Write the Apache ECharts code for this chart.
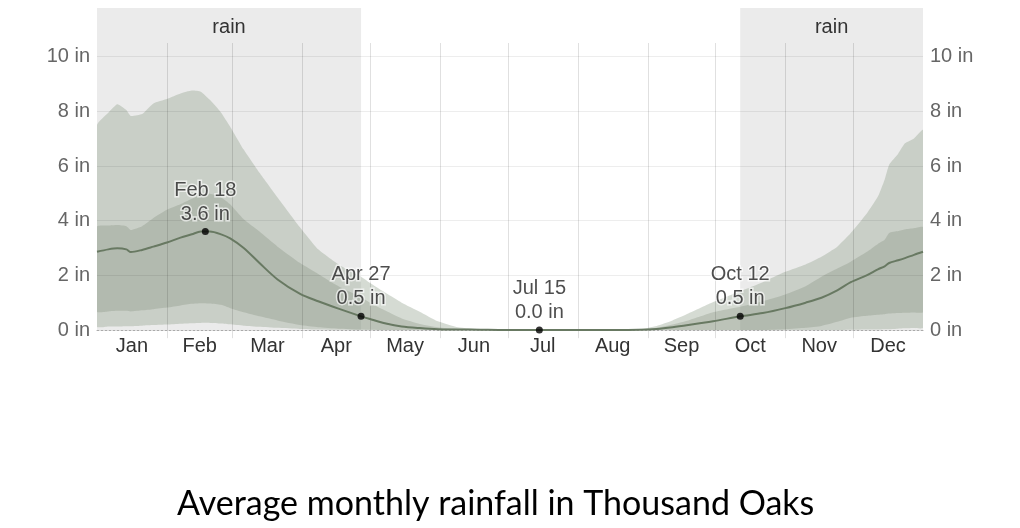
<!DOCTYPE html>
<html>
<head>
<meta charset="utf-8">
<title>Average monthly rainfall in Thousand Oaks</title>
<script src="https://cdn.jsdelivr.net/npm/echarts@6/dist/echarts.min.js"></script>
<style>
  html, body { margin: 0; padding: 0; background: #fff; }
  #chart { width: 1020px; height: 528px; }
</style>
</head>
<body>
<div id="chart"></div>
<script>
// day of year (0 = Jan 1, leap-year axis of 366 days) for every reading below
const days = [0, 5, 9, 13, 15, 20, 25, 31, 37, 42, 46, 50, 55, 59, 65, 72, 80, 90, 98, 107,
  117, 121, 128, 135, 143, 151, 160, 170, 181, 196, 212, 230, 240, 248, 255, 262, 273, 285, 295, 305,
  314, 321, 328, 334, 341, 346, 349, 351, 355, 358, 362, 366];

// average rainfall (inches), 31-day sliding total
const avgRain = [2.86, 2.95, 2.99, 2.95, 2.85, 2.93, 3.05, 3.2, 3.38, 3.5, 3.6, 3.6, 3.5, 3.35, 3.0, 2.45, 1.85, 1.32, 1.05, 0.78,
  0.5, 0.4, 0.24, 0.13, 0.07, 0.03, 0.02, 0.01, 0, 0, 0, 0, 0.01, 0.04, 0.1, 0.18, 0.32, 0.5, 0.62, 0.8,
  1.0, 1.18, 1.45, 1.75, 2.0, 2.22, 2.33, 2.45, 2.55, 2.63, 2.75, 2.86];

// percentile bands
const p10 = [0.12, 0.13, 0.13, 0.14, 0.14, 0.16, 0.18, 0.2, 0.23, 0.25, 0.26, 0.26, 0.24, 0.21, 0.16, 0.12, 0.08, 0.04, 0.02, 0.01,
  0, 0, 0, 0, 0, 0, 0, 0, 0, 0, 0, 0, 0, 0, 0, 0, 0, 0, 0, 0,
  0, 0, 0, 0.01, 0.02, 0.02, 0.03, 0.03, 0.05, 0.06, 0.07, 0.08];
const p25 = [0.67, 0.68, 0.7, 0.7, 0.68, 0.72, 0.76, 0.82, 0.9, 0.96, 0.98, 0.97, 0.92, 0.8, 0.65, 0.5, 0.35, 0.18, 0.1, 0.05,
  0.02, 0.01, 0, 0, 0, 0, 0, 0, 0, 0, 0, 0, 0, 0, 0, 0, 0, 0, 0, 0.03,
  0.08, 0.15, 0.3, 0.45, 0.52, 0.56, 0.58, 0.6, 0.62, 0.63, 0.64, 0.65];
const p75 = [3.78, 3.82, 3.84, 3.8, 3.66, 3.8, 4.1, 4.4, 4.6, 4.8, 4.95, 4.98, 4.85, 4.6, 4.05, 3.6, 3.05, 2.45, 2.05, 1.6,
  1.2, 1.0, 0.7, 0.42, 0.22, 0.1, 0.04, 0.01, 0, 0, 0, 0, 0.02, 0.08, 0.2, 0.35, 0.65, 0.85, 1.05, 1.3,
  1.6, 1.95, 2.25, 2.5, 2.85, 3.15, 3.3, 3.55, 3.62, 3.68, 3.72, 3.76];
const p90 = [7.5, 7.95, 8.26, 8.05, 7.83, 7.9, 8.29, 8.45, 8.65, 8.76, 8.72, 8.42, 7.95, 7.44, 6.6, 5.75, 4.85, 3.75, 2.95, 2.4,
  1.95, 1.72, 1.35, 1.0, 0.67, 0.32, 0.1, 0.02, 0, 0, 0, 0, 0.02, 0.15, 0.35, 0.6, 1.02, 1.42, 1.75, 2.13,
  2.4, 2.68, 3.05, 3.55, 4.25, 4.88, 5.5, 6.05, 6.45, 6.83, 7.01, 7.32];

const monthNames = ['Jan', 'Feb', 'Mar', 'Apr', 'May', 'Jun', 'Jul', 'Aug', 'Sep', 'Oct', 'Nov', 'Dec'];
const monthStarts = [0, 31, 60, 91, 121, 152, 182, 213, 244, 274, 305, 335, 366];
const yTicks = [0, 2, 4, 6, 8, 10];

// rainy season (start day, end day)
const rainSeasons = [[0, 117], [285, 366]];

// annotated days
const markDays = [48, 117, 196, 285];
const markValues = [3.6, 0.5, 0.0, 0.5];
const markLabels = ['Feb 18', 'Apr 27', 'Jul 15', 'Oct 12'];

const monthMids = monthNames.map((m, i) => (monthStarts[i] + monthStarts[i + 1]) / 2);
const yTop = 11.78;
const font = 'Arial, "Liberation Sans", sans-serif';

const chart = echarts.init(document.getElementById('chart'));

// polygon between two percentile lines
function band(lo, hi, color) {
  return function (params, api) {
    const pts = [];
    for (let i = 0; i < days.length; i++) pts.push(api.coord([days[i], hi[i]]));
    for (let i = days.length - 1; i >= 0; i--) pts.push(api.coord([days[i], lo[i]]));
    return { type: 'polygon', shape: { points: pts, smooth: 0.15 }, style: { fill: color } };
  };
}

const yAxisBase = {
  type: 'value',
  min: yTicks[0],
  max: yTop,
  interval: yTicks[1] - yTicks[0],
  axisLine: { show: false },
  axisTick: { show: false },
  axisLabel: { formatter: '{value} in', color: '#666', fontSize: 20, fontFamily: font, margin: 7, showMaxLabel: false },
  z: 4
};

const options = {
  animation: false,
  textStyle: { fontFamily: font },
  title: {
    text: 'Average monthly rainfall in Thousand Oaks',
    left: 172,
    top: 482,
    textStyle: { fontFamily: 'Lato', fontSize: 34, fontWeight: 'normal', color: '#000' }
  },
  grid: { left: 97, right: 97, top: 8, bottom: 198, outerBoundsMode: 'none' },
  xAxis: {
    type: 'value',
    min: monthStarts[0],
    max: monthStarts[12],
    z: 4,
    axisLine: { show: true, lineStyle: { color: '#aaa', type: [2, 2], width: 1 } },
    axisTick: { show: false },
    splitLine: { show: false },
    axisLabel: {
      customValues: monthMids,
      formatter: v => monthNames[monthMids.findIndex(m => Math.abs(m - v) < 1)],
      color: '#333',
      fontSize: 20,
      fontFamily: font,
      margin: 6
    }
  },
  yAxis: [
    Object.assign({}, yAxisBase, {
      position: 'left',
      splitLine: { show: true, showMinLine: false, showMaxLine: false, lineStyle: { color: 'rgba(0,0,0,0.07)' } }
    }),
    Object.assign({}, yAxisBase, { position: 'right', splitLine: { show: false } })
  ],
  series: [
    {
      name: 'rain',
      type: 'custom',
      z: 1,
      clip: false,
      data: rainSeasons,
      renderItem: function (params, api) {
        const a = api.coord([api.value(0), yTop]);
        const b = api.coord([api.value(1), 0]);
        return {
          type: 'group',
          children: [
            { type: 'rect', shape: { x: a[0], y: a[1], width: b[0] - a[0], height: b[1] - a[1] }, style: { fill: '#ebebeb' } },
            { type: 'text', x: (a[0] + b[0]) / 2, y: a[1] + 19,
              style: { text: 'rain', fill: '#333', font: '20px ' + font, align: 'center', verticalAlign: 'middle' } }
          ]
        };
      }
    },
    { name: '10-90', type: 'custom', z: 2, clip: true, data: [0], renderItem: band(p10, p90, 'rgba(150,165,145,0.4)') },
    { name: '25-75', type: 'custom', z: 2, clip: true, data: [0], renderItem: band(p25, p75, 'rgba(110,125,105,0.25)') },
    {
      name: 'months',
      type: 'custom',
      z: 3,
      clip: false,
      data: monthStarts.slice(1, -1),
      renderItem: function (params, api) {
        const t = api.coord([api.value(0), 10.5]);
        const b = api.coord([api.value(0), -0.3]);
        const x = Math.round(t[0]) + 0.5;
        return { type: 'line', shape: { x1: x, y1: t[1], x2: x, y2: b[1] }, style: { stroke: 'rgba(0,0,0,0.12)', lineWidth: 1 } };
      }
    },
    {
      name: 'Average',
      type: 'line',
      z: 5,
      smooth: 0.3,
      symbol: 'none',
      data: days.map((d, i) => [d, avgRain[i]]),
      lineStyle: { color: '#687962', width: 2 }
    },
    {
      name: 'marks',
      type: 'scatter',
      z: 6,
      symbolSize: 7,
      itemStyle: { color: '#000' },
      data: markDays.map((d, i) => ({ name: markLabels[i], value: [d, markValues[i]] })),
      label: {
        show: true,
        position: 'top',
        distance: 2,
        formatter: p => p.name + '\n' + p.value[1].toFixed(1) + ' in',
        color: '#222',
        fontSize: 20,
        fontFamily: font,
        lineHeight: 24,
        textBorderColor: 'rgba(255,255,255,0.8)',
        textBorderWidth: 3
      }
    }
  ]
};

chart.setOption(options);

window.addEventListener('resize', () => {
  chart.resize();
});
</script>
</body>
</html>
